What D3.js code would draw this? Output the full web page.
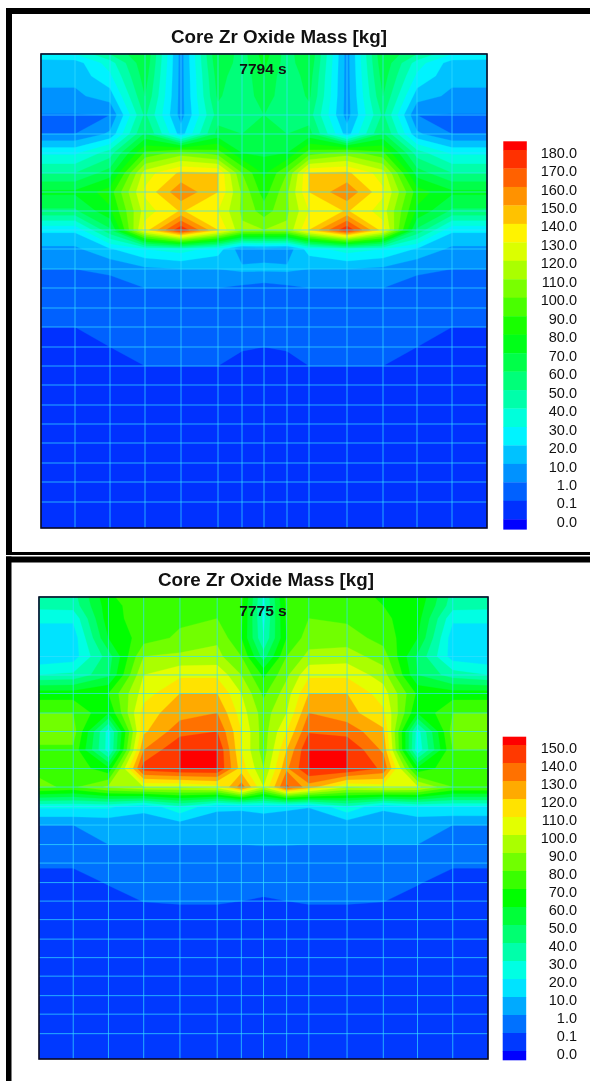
<!DOCTYPE html>
<html lang="en">
  <head>
  <meta charset="utf-8"/>
    <script type="text/javascript" src="https://cdnjs.cloudflare.com/ajax/libs/d3/7.8.5/d3.min.js"></script>
    <style>
      html, body { margin: 0; padding: 0; background: #fff; }
      svg { display: block; filter: blur(0.45px); }
      text { font-family: "Liberation Sans", Arial, sans-serif; fill: #111; }
    </style>
  </head>
  <body>
<svg class="fillmeup" width="590" height="1081"></svg>
    <script type="text/javascript">

var titleText = "Core Zr Oxide Mass [kg]";

// mesh node coordinates, same for both snapshots
var meshX = [0, 34, 69, 104, 140, 177, 201, 223, 246, 268, 306, 342, 376, 411, 446];
var meshY = [0, 9, 22, 42, 61, 80, 99, 119, 138, 157, 176, 195, 215, 234, 254, 273, 293, 312, 331, 351, 370, 389, 409, 428, 448, 474];

// legend levels, low to high
var levelsA = [0, 0.1, 1, 10, 20, 30, 40, 50, 60, 70, 80, 90, 100, 110, 120, 130, 140, 150, 160, 170, 180];
var levelsB = [0, 0.1, 1, 10, 20, 30, 40, 50, 60, 70, 80, 90, 100, 110, 120, 130, 140, 150];

// oxide mass at the mesh nodes, one row per axial node
var massA = [
  [28, 30, 50, 70, 6, 70, 55, 75, 55, 70, 6, 70, 50, 30, 28],
  [15, 15, 35, 68, 6, 68, 55, 72, 55, 68, 6, 68, 35, 15, 15],
  [13, 13, 28, 65, 6, 65, 52, 70, 52, 65, 6, 65, 28, 13, 13],
  [8, 8, 15, 60, 6, 62, 50, 68, 50, 62, 6, 60, 15, 8, 8],
  [0.95, 0.95, 1, 52, 6, 55, 50, 60, 50, 55, 6, 52, 1, 0.95, 0.95],
  [1, 1, 12, 62, 15, 64, 60, 62, 60, 64, 15, 62, 12, 1, 1],
  [28, 28, 45, 92, 105, 95, 70, 68, 70, 95, 105, 92, 45, 28, 28],
  [50, 50, 65, 125, 142, 140, 100, 78, 100, 140, 142, 125, 65, 50, 50],
  [72, 72, 85, 132, 158, 140, 108, 85, 108, 140, 158, 132, 85, 72, 72],
  [58, 58, 78, 125, 141, 130, 108, 95, 108, 130, 141, 125, 78, 58, 58],
  [22, 22, 58, 135, 178, 140, 112, 110, 112, 140, 178, 135, 58, 22, 22],
  [8, 8, 19, 30, 35, 25, 4, 6, 4, 25, 35, 30, 19, 8, 8],
  [1, 1, 2, 8, 10, 10, 12, 12, 12, 10, 10, 8, 2, 1, 1],
  [0.7, 0.7, 0.8, 1, 1, 1, 0.8, 0.6, 0.8, 1, 1, 1, 0.8, 0.7, 0.7],
  [0.5, 0.5, 0.6, 0.7, 0.75, 0.75, 0.6, 0.4, 0.6, 0.75, 0.75, 0.7, 0.6, 0.5, 0.5],
  [0.1, 0.1, 0.4, 0.6, 0.6, 0.6, 0.45, 0.3, 0.45, 0.6, 0.6, 0.6, 0.4, 0.1, 0.1],
  [0.06, 0.06, 0.1, 0.3, 0.4, 0.4, 0.2, 0.1, 0.2, 0.4, 0.4, 0.3, 0.1, 0.06, 0.06],
  [0.04, 0.04, 0.06, 0.1, 0.1, 0.1, 0.06, 0.04, 0.06, 0.1, 0.1, 0.1, 0.06, 0.04, 0.04],
  [0.03, 0.03, 0.03, 0.04, 0.04, 0.04, 0.03, 0.03, 0.03, 0.04, 0.04, 0.04, 0.03, 0.03, 0.03],
  [0.03, 0.03, 0.03, 0.03, 0.03, 0.03, 0.03, 0.03, 0.03, 0.03, 0.03, 0.03, 0.03, 0.03, 0.03],
  [0.02, 0.02, 0.03, 0.03, 0.03, 0.03, 0.03, 0.03, 0.03, 0.03, 0.03, 0.03, 0.03, 0.02, 0.02],
  [0.02, 0.02, 0.02, 0.02, 0.02, 0.02, 0.02, 0.02, 0.02, 0.02, 0.02, 0.02, 0.02, 0.02, 0.02],
  [0.02, 0.02, 0.02, 0.02, 0.02, 0.02, 0.02, 0.02, 0.02, 0.02, 0.02, 0.02, 0.02, 0.02, 0.02],
  [0.01, 0.01, 0.02, 0.02, 0.02, 0.02, 0.02, 0.02, 0.02, 0.02, 0.02, 0.02, 0.02, 0.01, 0.01],
  [0.01, 0.01, 0.01, 0.01, 0.01, 0.01, 0.01, 0.01, 0.01, 0.01, 0.01, 0.01, 0.01, 0.01, 0.01],
  [0.01, 0.01, 0.01, 0.01, 0.01, 0.01, 0.01, 0.01, 0.01, 0.01, 0.01, 0.01, 0.01, 0.01, 0.01]
];

var massB = [
  [35, 36, 68, 78, 76, 72, 74, 28, 74, 72, 76, 68, 68, 36, 33],
  [33, 34, 66, 76, 75, 74, 72, 27, 72, 74, 76, 70, 66, 34, 33],
  [22, 22, 66, 75, 78, 80, 72, 27, 72, 80, 78, 72, 64, 22, 22],
  [14, 14, 60, 75, 82, 88, 70, 30, 70, 85, 85, 76, 60, 14, 14],
  [12, 15, 45, 90, 92, 93, 80, 45, 80, 93, 95, 85, 48, 15, 12],
  [30, 32, 48, 100, 108, 108, 90, 68, 88, 108, 108, 95, 50, 35, 30],
  [65, 65, 70, 105, 120, 120, 100, 78, 95, 120, 120, 105, 68, 65, 65],
  [80, 80, 60, 115, 126, 130, 105, 85, 100, 130, 124, 112, 60, 80, 80],
  [85, 85, 25, 118, 136, 140, 110, 85, 110, 139, 136, 122, 25, 85, 85],
  [78, 78, 25, 130, 154, 153, 110, 85, 120, 151, 152, 128, 22, 80, 80],
  [78, 78, 62, 145, 165, 165, 115, 90, 128, 160, 165, 138, 62, 78, 78],
  [82, 78, 92, 100, 100, 105, 135, 100, 142, 125, 100, 105, 102, 80, 80],
  [22, 22, 22, 13, 28, 12, 12, 14, 12, 10.5, 28, 12, 20, 20, 20],
  [1, 1, 3, 5, 6, 5, 4, 4, 4, 4, 4, 4, 2.5, 1, 1],
  [0.5, 0.5, 1, 1, 1, 1, 1, 1.3, 1.2, 1, 1, 1, 1, 0.5, 0.5],
  [0.2, 0.2, 0.5, 0.6, 0.7, 0.7, 0.6, 0.6, 0.6, 0.7, 0.7, 0.6, 0.5, 0.2, 0.2],
  [0.07, 0.07, 0.15, 0.3, 0.4, 0.4, 0.35, 0.4, 0.35, 0.4, 0.4, 0.3, 0.15, 0.07, 0.07],
  [0.04, 0.04, 0.07, 0.12, 0.2, 0.2, 0.1, 0.09, 0.1, 0.2, 0.2, 0.12, 0.07, 0.04, 0.04],
  [0.03, 0.03, 0.04, 0.05, 0.05, 0.05, 0.04, 0.03, 0.04, 0.05, 0.05, 0.05, 0.04, 0.03, 0.03],
  [0.03, 0.03, 0.03, 0.03, 0.03, 0.03, 0.03, 0.03, 0.03, 0.03, 0.03, 0.03, 0.03, 0.03, 0.03],
  [0.02, 0.02, 0.03, 0.03, 0.03, 0.03, 0.03, 0.03, 0.03, 0.03, 0.03, 0.03, 0.03, 0.02, 0.02],
  [0.02, 0.02, 0.02, 0.02, 0.02, 0.02, 0.02, 0.02, 0.02, 0.02, 0.02, 0.02, 0.02, 0.02, 0.02],
  [0.02, 0.02, 0.02, 0.02, 0.02, 0.02, 0.02, 0.02, 0.02, 0.02, 0.02, 0.02, 0.02, 0.02, 0.02],
  [0.01, 0.01, 0.02, 0.02, 0.02, 0.02, 0.02, 0.02, 0.02, 0.02, 0.02, 0.02, 0.02, 0.01, 0.01],
  [0.01, 0.01, 0.01, 0.01, 0.01, 0.01, 0.01, 0.01, 0.01, 0.01, 0.01, 0.01, 0.01, 0.01, 0.01],
  [0.01, 0.01, 0.01, 0.01, 0.01, 0.01, 0.01, 0.01, 0.01, 0.01, 0.01, 0.01, 0.01, 0.01, 0.01]
];

var svg = d3.select(".fillmeup");

// black frames round the two pictures
svg.append("rect").attr("x", 6).attr("y", 8).attr("width", 584).attr("height", 6);
svg.append("rect").attr("x", 6).attr("y", 8).attr("width", 6).attr("height", 547);
svg.append("rect").attr("x", 6).attr("y", 552).attr("width", 584).attr("height", 3);
svg.append("rect").attr("x", 6).attr("y", 556.5).attr("width", 584).attr("height", 6);
svg.append("rect").attr("x", 6).attr("y", 556.5).attr("width", 5.5).attr("height", 525);

function drawPanel(mass, levels, time, box, titleX, titleY, timeY, legendTop, legendBottom, legendFirst, legendLast) {
  var g = svg.append("g");
  var n = meshX.length, m = meshY.length;

  // rainbow bands, one more than the levels so both ends get a half band
  var bandCount = levels.length + 1;
  var bandColor = function(i) { return d3.hsl(240 * (1 - i / (bandCount - 1)), 1, 0.5).formatHex(); };

  // node index -> page position, piecewise through the mesh
  var x = d3.scaleLinear().domain([0, 446]).range([box.left, box.right]);
  var y = d3.scaleLinear().domain([0, 474]).range([box.top, box.bottom]);
  var xNode = d3.scaleLinear().domain(d3.range(n)).range(meshX.map(x)).clamp(true);
  var yNode = d3.scaleLinear().domain(d3.range(m)).range(meshY.map(y)).clamp(true);

  // mass -> level number, so the bands are even although the legend is not
  var levelIndex = d3.scaleLinear().domain(levels).range(d3.range(levels.length)).clamp(true);
  var values = d3.merge(mass).map(levelIndex);

  var contours = d3.contours().size([n, m]).thresholds(d3.range(levels.length))(values);
  var path = d3.geoPath().projection(d3.geoTransform({
    point: function(px, py) { this.stream.point(xNode(px - 0.5), yNode(py - 0.5)); }
  }));

  g.append("rect")
    .attr("x", box.left).attr("y", box.top)
    .attr("width", box.right - box.left).attr("height", box.bottom - box.top)
    .attr("fill", bandColor(0));

  g.selectAll("path.band").data(contours).enter().append("path")
    .attr("class", "band")
    .attr("d", path)
    .attr("fill", function(d) { return bandColor(d.value + 1); })
    .attr("stroke", function(d) { return bandColor(d.value + 1); })
    .attr("stroke-width", 0.3);

  // mesh lines
  g.selectAll("line.v").data(meshX.slice(1, -1)).enter().append("line")
    .attr("class", "v")
    .attr("x1", x).attr("x2", x)
    .attr("y1", box.top).attr("y2", box.bottom)
    .attr("stroke", "#33e0ff").attr("stroke-opacity", 0.7).attr("stroke-width", 1);
  g.selectAll("line.h").data(meshY.slice(4, -1)).enter().append("line")
    .attr("class", "h")
    .attr("y1", y).attr("y2", y)
    .attr("x1", box.left).attr("x2", box.right)
    .attr("stroke", "#33e0ff").attr("stroke-opacity", 0.7).attr("stroke-width", 1);

  g.append("rect")
    .attr("x", box.left).attr("y", box.top)
    .attr("width", box.right - box.left).attr("height", box.bottom - box.top)
    .attr("fill", "none").attr("stroke", "#0b0b22").attr("stroke-width", 1.6);

  g.append("text")
    .attr("x", titleX).attr("y", titleY)
    .attr("text-anchor", "middle")
    .attr("font-size", 18.8).attr("font-weight", "bold")
    .text(titleText);

  g.append("text")
    .attr("x", 263).attr("y", timeY)
    .attr("text-anchor", "middle")
    .attr("font-size", 15.5).attr("font-weight", "bold")
    .text(time);

  // legend bar, k counts bands from the top
  var labels = levels.slice().reverse();
  var legendY = d3.scalePoint().domain(labels).range([legendFirst, legendLast]);
  var bandTop = function(k) { return k === 0 ? legendTop : legendY(labels[k - 1]); };
  var bandBottom = function(k) { return k === labels.length ? legendBottom : legendY(labels[k]); };
  g.selectAll("rect.key").data(d3.range(bandCount)).enter().append("rect")
    .attr("class", "key")
    .attr("x", box.legendX).attr("width", 23.5)
    .attr("y", bandTop)
    .attr("height", function(k) { return bandBottom(k) - bandTop(k) + 0.3; })
    .attr("fill", function(k) { return bandColor(bandCount - 1 - k); });

  g.selectAll("text.lab").data(labels).enter().append("text")
    .attr("class", "lab")
    .attr("x", 577)
    .attr("y", function(d) { return legendY(d) + 7.6; })
    .attr("text-anchor", "end")
    .attr("font-size", 14.5)
    .text(function(d) { return d3.format(".1f")(d); });
}

drawPanel(massA, levelsA, "7794 s", {left: 41, right: 487, top: 54, bottom: 528, legendX: 503.3}, 279, 42.5, 74, 141.3, 529.3, 150, 519.3);
drawPanel(massB, levelsB, "7775 s", {left: 39, right: 488, top: 597, bottom: 1059, legendX: 502.7}, 266, 586, 616, 736.7, 1060, 745, 1051);

    </script>
  </body>
</html>
